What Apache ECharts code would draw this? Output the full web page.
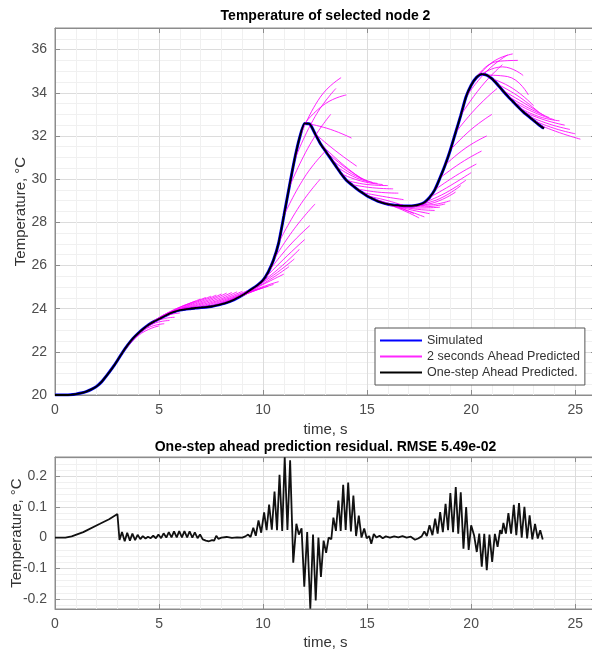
<!DOCTYPE html>
<html>
<head>
<meta charset="utf-8">
<title>Temperature of selected node 2</title>
<script src="https://cdn.jsdelivr.net/npm/echarts@6/dist/echarts.min.js"></script>
<style>
html, body { margin: 0; padding: 0; background: #fff; }
#chart { width: 592px; height: 652px; }
</style>
</head>
<body>
<div id="chart"></div>
<script>
// simulated temperature, one value every 0.25 s from t = 0
const simStep = 0.25;
const simulated = [
    20.00, 20.00, 20.00, 20.01, 20.04, 20.09, 20.16, 20.26, 20.40, 20.62,
    20.92, 21.24, 21.60, 21.98, 22.32, 22.62, 22.86, 23.07, 23.25, 23.40,
    23.52, 23.65, 23.77, 23.86, 23.93, 23.97, 24.00, 24.03, 24.05, 24.07,
    24.10, 24.15, 24.21, 24.28, 24.37, 24.49, 24.62, 24.77, 24.93, 25.10,
    25.32, 25.70, 26.25, 27.05, 28.30, 29.60, 30.85, 31.90, 32.58, 32.55,
    32.10, 31.65, 31.30, 30.95, 30.60, 30.25, 29.95, 29.75, 29.55, 29.38,
    29.22, 29.10, 28.98, 28.90, 28.84, 28.80, 28.78, 28.76, 28.76, 28.77,
    28.82, 28.92, 29.15, 29.50, 30.05, 30.65, 31.35, 32.15, 32.95, 33.80,
    34.35, 34.70, 34.86, 34.82, 34.65, 34.40, 34.12, 33.85, 33.60, 33.35,
    33.12, 32.92, 32.72, 32.52, 32.35
];

// 2 s ahead predictions: one every 0.25 s from t = 3 s,
// value 1 s and 2 s after the start point on the simulated curve
const predFirst = 3.0;
const predStep = 0.25;
const predMid = [
    22.75, 23.00, 23.20, 23.38, 23.55, 23.72, 23.85, 23.95, 24.03, 24.10,
    24.17, 24.22, 24.26, 24.30, 24.33, 24.36, 24.40, 24.44, 24.49, 24.55,
    24.62, 24.70, 24.80, 24.93, 25.12, 25.30, 25.55, 25.85, 26.30, 26.90,
    27.70, 28.75, 30.10, 31.60, 32.90, 33.80, 33.50, 32.30, 31.30, 30.75,
    30.50, 30.25, 30.05, 29.90, 29.75, 29.60, 29.40, 29.20, 29.00, 28.80,
    28.65, 28.60, 28.60, 28.62, 28.66, 28.72, 28.80, 28.92, 29.10, 29.35,
    29.70, 30.15, 30.75, 31.45, 32.30, 33.30, 34.30, 35.00, 35.40, 35.45,
    35.20, 34.75, 34.20, 33.85, 33.55, 33.30, 33.10, 32.90, 32.75, 32.55,
    32.35, 32.15
];
const predEnd = [
    23.20, 23.30, 23.45, 23.60, 23.80, 24.05, 24.25, 24.35, 24.45, 24.52,
    24.58, 24.63, 24.68, 24.72, 24.75, 24.78, 24.80, 24.83, 24.87, 24.92,
    24.98, 25.04, 25.12, 25.25, 25.60, 25.95, 26.30, 26.75, 27.20, 27.85,
    28.85, 30.00, 31.30, 33.00, 34.20, 34.70, 33.90, 31.90, 30.60, 30.00,
    29.90, 29.85, 29.80, 29.75, 29.70, 29.55, 29.35, 29.05, 28.70, 28.40,
    28.20, 28.25, 28.40, 28.55, 28.70, 28.85, 29.00, 29.40, 29.70, 29.95,
    30.30, 30.70, 31.30, 32.00, 33.00, 34.20, 35.30, 35.75, 35.80, 35.50,
    34.80, 33.90, 33.40, 33.10, 32.95, 32.85, 32.75, 32.70, 32.50, 32.30,
    32.10, 31.85
];

// one-step ahead prediction residual
const resTime = [
    0, 0.5, 0.8, 1.36, 2.16, 2.6, 3.0, 3.1, 3.22, 3.35,
    3.47, 3.60, 3.72, 3.85, 3.97, 4.10, 4.22, 4.35, 4.47, 4.60,
    4.72, 4.85, 4.97, 5.10, 5.22, 5.35, 5.47, 5.60, 5.72, 5.85,
    5.97, 6.10, 6.22, 6.35, 6.47, 6.60, 6.72, 6.85, 6.97, 7.10,
    7.25, 7.40, 7.55, 7.65, 7.75, 7.85, 8.00, 8.25, 8.50, 8.75,
    9.00, 9.15, 9.28, 9.40, 9.53, 9.65, 9.78, 9.91, 10.05, 10.17,
    10.29, 10.42, 10.55, 10.67, 10.79, 10.92, 11.04, 11.17, 11.30, 11.45,
    11.60, 11.72, 11.85, 11.98, 12.12, 12.27, 12.40, 12.53, 12.66, 12.78,
    12.91, 13.03, 13.15, 13.28, 13.38, 13.50, 13.62, 13.73, 13.85, 13.97,
    14.09, 14.22, 14.34, 14.47, 14.60, 14.73, 14.86, 14.98, 15.10, 15.20,
    15.32, 15.45, 15.60, 15.75, 15.90, 16.10, 16.30, 16.50, 16.70, 16.90,
    17.10, 17.30, 17.45, 17.62, 17.75, 17.87, 18.00, 18.14, 18.27, 18.39,
    18.51, 18.64, 18.77, 18.89, 19.00, 19.13, 19.26, 19.38, 19.50, 19.63,
    19.76, 19.88, 20.00, 20.14, 20.27, 20.39, 20.51, 20.63, 20.75, 20.88,
    21.01, 21.14, 21.27, 21.39, 21.47, 21.55, 21.67, 21.79, 21.92, 22.05,
    22.17, 22.30, 22.43, 22.56, 22.69, 22.81, 22.94, 23.07, 23.20, 23.32,
    23.44
];
const resValue = [
    0, 0.000, 0.004, 0.018, 0.045, 0.060, 0.077, -0.008, 0.018, -0.012,
    0.016, -0.010, 0.013, -0.008, 0.009, -0.005, 0.005, -0.003, 0.003, -0.002,
    0.006, -0.002, 0.010, -0.002, 0.014, 0.000, 0.018, 0.001, 0.020, 0.001,
    0.021, 0.001, 0.021, 0.001, 0.020, 0.000, 0.017, -0.002, 0.010, -0.006,
    -0.010, -0.012, -0.008, -0.010, 0.006, -0.004, 0.000, 0.002, -0.001, 0.001,
    0.000, 0.004, 0.010, 0.002, 0.032, 0.006, 0.056, 0.016, 0.082, 0.024,
    0.108, 0.026, 0.150, 0.024, 0.205, 0.022, 0.262, 0.025, 0.252, -0.082,
    0.045, 0.010, 0.030, -0.160, 0.018, -0.232, 0.010, -0.205, 0.000, -0.128,
    -0.010, -0.050, 0.000, -0.005, 0.065, 0.022, 0.121, 0.022, 0.172, 0.025,
    0.180, 0.020, 0.137, 0.005, 0.072, 0.000, 0.030, -0.002, 0.005, -0.020,
    0.012, 0.000, 0.006, -0.002, 0.004, 0.000, 0.004, 0.001, 0.005, 0.000,
    0.003, -0.007, -0.003, 0.004, 0.020, 0.005, 0.040, 0.008, 0.062, 0.013,
    0.083, 0.018, 0.110, 0.024, 0.145, 0.018, 0.165, 0.013, 0.148, -0.036,
    0.100, -0.040, 0.040, 0.008, -0.047, 0.013, -0.095, 0.012, -0.106, 0.010,
    -0.079, 0.012, -0.030, 0.024, 0.012, 0.048, 0.013, 0.080, 0.013, 0.107,
    0.008, 0.113, 0.000, 0.100, -0.003, 0.073, -0.006, 0.045, -0.003, 0.024,
    -0.006
];

const timeTicks = [0, 5, 10, 15, 20, 25];
const tempTicks = [20, 22, 24, 26, 28, 30, 32, 34, 36];
const resTicks = [-0.2, -0.1, 0, 0.1, 0.2];

const fontFamily = '"Liberation Sans", Arial, Helvetica, sans-serif';
const axisGray = '#8c8c8c';
const labelGray = '#4d4d4d';

// grid line positions (not data)
function steps(from, to, step) {
    const out = [];
    for (let v = from; v <= to + 1e-9; v += step) {
        out.push(Math.round(v * 1000) / 1000);
    }
    return out;
}
const minorTime = steps(0, 26, 1);
const minorTemp = steps(20, 37, 0.5);
const minorRes = steps(-0.22, 0.26, 0.02);

function minorAxis(gridIndex, position, values, min, max) {
    return {
        type: 'value', gridIndex, position, min, max,
        axisLine: {show: false},
        axisTick: {show: false, customValues: values},
        axisLabel: {show: false, customValues: values},
        splitLine: {show: true, lineStyle: {color: '#f0f0f0', width: 1}}
    };
}

function majorAxis(gridIndex, position, values, min, max, name, nameGap) {
    return {
        type: 'value', gridIndex, position, min, max,
        name, nameLocation: 'middle', nameGap, nameMoveOverlap: false,
        nameTextStyle: {fontSize: 15, color: '#333', fontFamily},
        axisLine: {show: true, onZero: false, lineStyle: {color: axisGray}},
        axisTick: {show: true, inside: true, length: 5, customValues: values, lineStyle: {color: axisGray}},
        axisLabel: {customValues: values, fontSize: 14, color: labelGray, margin: 8, fontFamily},
        splitLine: {show: true, lineStyle: {color: '#dcdcdc', width: 1}}
    };
}

function sideAxis(gridIndex, position, values, min, max, name, nameGap) {
    return {
        type: 'value', gridIndex, position, min, max,
        name, nameLocation: 'middle', nameGap,
        nameTextStyle: {fontSize: 14, fontWeight: 'bold', color: '#000', fontFamily},
        axisLine: {show: true, onZero: false, lineStyle: {color: axisGray}},
        axisTick: {show: true, inside: true, length: 5, customValues: values, lineStyle: {color: axisGray}},
        axisLabel: {show: false, customValues: values},
        splitLine: {show: false}
    };
}

const simData = simulated.map((v, i) => [i * simStep, v]);

const series = [];
series.push({
    name: 'Simulated', type: 'line', xAxisIndex: 1, yAxisIndex: 1,
    data: simData, symbol: 'none', smooth: 0.2,
    lineStyle: {color: '#0000ff', width: 3}, itemStyle: {color: '#0000ff'}, z: 2
});
predMid.forEach((mid, i) => {
    const t0 = predFirst + i * predStep;
    const startIdx = Math.round(t0 / simStep);
    series.push({
        name: '2 seconds Ahead Predicted', type: 'line', xAxisIndex: 1, yAxisIndex: 1,
        data: [[t0, simulated[startIdx]], [t0 + 1, mid], [t0 + 2, predEnd[i]]],
        symbol: 'none', smooth: 0.5,
        lineStyle: {color: '#ff00ff', width: 1, opacity: 0.85}, itemStyle: {color: '#ff00ff'}, z: 3
    });
});
series.push({
    name: 'One-step Ahead Predicted.', type: 'line', xAxisIndex: 1, yAxisIndex: 1,
    data: simData, symbol: 'none', smooth: 0.2,
    lineStyle: {color: '#000000', width: 1.8}, itemStyle: {color: '#000000'}, z: 4
});
series.push({
    name: 'Residual', type: 'line', xAxisIndex: 4, yAxisIndex: 4,
    data: resTime.map((t, i) => [t, resValue[i]]), symbol: 'none',
    lineStyle: {color: '#111111', width: 1.8}, itemStyle: {color: '#111111'}, z: 4
});

const chart = echarts.init(document.getElementById('chart'));
chart.setOption({
    animation: false,
    backgroundColor: '#ffffff',
    textStyle: {fontFamily},
    grid: [
        {left: 55, top: 28, width: 541, height: 367, outerBoundsMode: 'none', show: true, borderColor: axisGray, borderWidth: 1, backgroundColor: '#fff'},
        {left: 55, top: 457, width: 541, height: 152, outerBoundsMode: 'none', show: true, borderColor: axisGray, borderWidth: 1, backgroundColor: '#fff'}
    ],
    xAxis: [
        minorAxis(0, 'bottom', minorTime, 0, 26),
        majorAxis(0, 'bottom', timeTicks, 0, 26, 'time, s', 27),
        sideAxis(0, 'top', timeTicks, 0, 26, 'Temperature of selected node 2', 5),
        minorAxis(1, 'bottom', minorTime, 0, 26),
        majorAxis(1, 'bottom', timeTicks, 0, 26, 'time, s', 26),
        sideAxis(1, 'top', timeTicks, 0, 26, 'One-step ahead prediction residual. RMSE 5.49e-02', 3)
    ],
    yAxis: [
        minorAxis(0, 'left', minorTemp, 20, 37),
        majorAxis(0, 'left', tempTicks, 20, 37, 'Temperature, \u00B0C', 27),
        sideAxis(0, 'right', tempTicks, 20, 37, '', 0),
        minorAxis(1, 'left', minorRes, -0.233, 0.263),
        majorAxis(1, 'left', resTicks, -0.233, 0.263, 'Temperature, \u00B0C', 31),
        sideAxis(1, 'right', resTicks, -0.233, 0.263, '', 0)
    ],
    legend: {
        data: ['Simulated', '2 seconds Ahead Predicted', 'One-step Ahead Predicted.'],
        orient: 'vertical', left: 375, top: 328,
        itemWidth: 42, itemHeight: 14, itemGap: 3,
        padding: [6, 5, 6, 4],
        itemStyle: {opacity: 0},
        backgroundColor: '#fff', borderColor: '#555', borderWidth: 1, borderRadius: 0,
        textStyle: {fontSize: 12.5, color: '#333', fontFamily},
        selectedMode: false
    },
    series
});
</script>
</body>
</html>
